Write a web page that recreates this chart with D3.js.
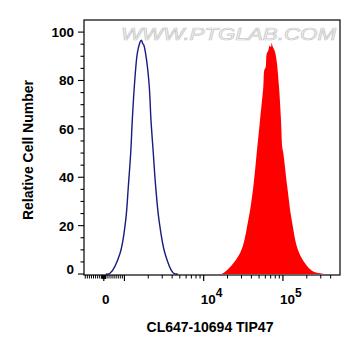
<!DOCTYPE html>
<html>
<head>
<meta charset="utf-8">
<script src="https://cdn.jsdelivr.net/npm/d3@7"></script>
<style>
  html, body { margin: 0; padding: 0; background: #ffffff; }
  svg { display: block; }
  text { font-family: "Liberation Sans", Arial, sans-serif; font-weight: bold; }
</style>
</head>
<body>
<svg id="chart" width="361" height="356"></svg>
<script>
// ---- data (intensity, % of max) ----
const isotypeX = [100, 300, 785, 1038, 1119, 1200, 1257, 1333, 1453, 1560, 1620, 1660, 1700, 1760, 1910, 2060, 2163, 2313, 2482, 2731, 3250, 4140, 4700];
const isotypeY = [0, 0.3, 8.5, 22.3, 36, 50, 63.6, 77.4, 91.2, 95.5, 96.6, 96.3, 95.3, 94.6, 88, 77.4, 63.6, 50, 36, 22.3, 8.5, 0.4, 0];

const sampleX = [15000, 17530, 28710, 36560, 42280, 46670, 51370, 56540, 58210, 60500, 62400, 65500, 68000, 70500, 72160, 74000, 77000, 80000, 83420, 89200, 94570, 98000, 101100, 113500, 129100, 160800, 230000, 293600, 330000];
const sampleY = [0, 0.3, 8.6, 22.3, 36, 50, 63.6, 77.4, 84.3, 85.5, 91, 92.5, 94.5, 93.8, 95.6, 94.2, 93, 91.5, 88, 77.4, 63.6, 52.5, 50, 36, 22.3, 8.6, 1.5, 0.3, 0];

const yTicks = [0, 20, 40, 60, 80, 100];
const xMajorTicks = [0, 1e4, 1e5];
const xMajorLabels = ["0", "10|4", "10|5"];
const xTitle = "CL647-10694 TIP47";
const yTitle = "Relative Cell Number";
const watermark = "WWW.PTGLAB.COM";

// ---- layout ----
const L = 84, R = 340, T = 20, B = 275;
const svg = d3.select("#chart");

// biexponential-like display transform: linear near zero, log above 10^3
function tf(v) {
  if (v >= 1000) return Math.log10(v);
  return 3 - (1000 - v) / 1000 * 0.26;
}
const xLin = d3.scaleLinear().domain([2.49, 5.72]).range([L, R]);
const x = v => xLin(tf(v));
const y = d3.scaleLinear().domain([-0.4, 105]).range([B, T]);

// watermark
svg.append("text")
  .attr("x", 121).attr("y", 40)
  .attr("textLength", 215).attr("lengthAdjust", "spacingAndGlyphs")
  .style("font-size", "17px").style("font-weight", "normal").style("font-style", "italic")
  .style("fill", "#f6f6f6").style("stroke", "#c8c8c8").style("stroke-width", 0.7)
  .text(watermark);

// sample (filled red)
const sample = sampleX.map((v, i) => [v, sampleY[i]]);
svg.append("path")
  .datum(sample)
  .attr("fill", "#ff0000")
  .attr("stroke", "none")
  .attr("d", d3.area().x(d => x(d[0])).y0(y(0)).y1(d => y(d[1])).curve(d3.curveCatmullRom.alpha(0.5)));

// isotype (blue outline)
const iso = isotypeX.map((v, i) => [v, isotypeY[i]]);
svg.append("path")
  .datum(iso)
  .attr("fill", "none")
  .attr("stroke", "#1a1a80")
  .attr("stroke-width", 1.4)
  .attr("d", d3.line().x(d => x(d[0])).y(d => y(d[1])).curve(d3.curveCatmullRom.alpha(0.5)));

// frame
svg.append("rect").attr("x", L).attr("y", T).attr("width", R - L).attr("height", B - T)
  .attr("fill", "none").attr("stroke", "#000").attr("stroke-width", 1.2);

// y axis ticks
const yMinor = d3.range(0, 105, 5);
svg.append("g").selectAll("line").data(yMinor).join("line")
  .attr("x1", L).attr("x2", d => L - (d % 20 === 0 ? 6 : 3.5))
  .attr("y1", d => y(d)).attr("y2", d => y(d))
  .attr("stroke", "#000").attr("stroke-width", 1.1);
svg.append("g").selectAll("text").data(yTicks).join("text")
  .attr("x", L - 10).attr("y", d => y(d) + (d === 0 ? 0 : 5))
  .attr("text-anchor", "end").style("font-size", "13.5px")
  .text(d => d);

// x axis ticks
const xMinor = [];
for (let v = -900; v <= 900; v += 100) if (v !== 0) xMinor.push(v);
for (let v = -90; v <= 90; v += 10) if (v !== 0) xMinor.push(v);
for (let v = 2000; v <= 9000; v += 1000) xMinor.push(v);
for (let v = 20000; v <= 90000; v += 10000) xMinor.push(v);
for (let v = 200000; v <= 400000; v += 100000) xMinor.push(v);
const xMaj = [0, 1000, 1e4, 1e5];
svg.append("g").selectAll("line").data(xMinor).join("line")
  .attr("x1", d => x(d)).attr("x2", d => x(d))
  .attr("y1", B).attr("y2", B + 3.5)
  .attr("stroke", "#000").attr("stroke-width", 1);
svg.append("g").selectAll("line").data(xMaj).join("line")
  .attr("x1", d => x(d)).attr("x2", d => x(d))
  .attr("y1", B).attr("y2", B + 6)
  .attr("stroke", "#000").attr("stroke-width", 1.2);

const xl = svg.append("g").selectAll("text").data(xMajorTicks).join("text")
  .attr("x", (d, i) => i === 0 ? x(d) + 2 : x(d) - 3)
  .attr("y", 304)
  .attr("text-anchor", (d, i) => i === 0 ? "middle" : "start")
  .style("font-size", "13.5px");
xl.each(function(d, i) {
  const parts = xMajorLabels[i].split("|");
  const t = d3.select(this);
  t.append("tspan").text(parts[0]);
  if (parts[1]) t.append("tspan").attr("dy", -7).style("font-size", "12px").text(parts[1]);
});

// titles
svg.append("text").attr("x", 210).attr("y", 332).attr("text-anchor", "middle")
  .style("font-size", "14px").text(xTitle);
svg.append("text").attr("transform", "translate(33,150) rotate(-90)").attr("text-anchor", "middle")
  .style("font-size", "14px").text(yTitle);
</script>
</body>
</html>
